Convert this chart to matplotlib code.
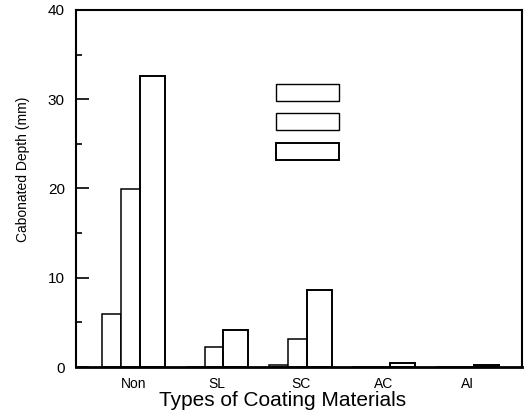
import matplotlib
matplotlib.use('Agg')
import matplotlib.pyplot as plt
from matplotlib.patches import Patch
from matplotlib.ticker import MultipleLocator
import numpy as np

plt.rcParams['font.family'] = ['Liberation Sans', 'DejaVu Sans']

# data
categories = ['Non', 'SL', 'SC', 'AC', 'AI']
series_1 = [5.9, 0.0, 0.25, 0.0, 0.0]
series_2 = [19.9, 2.2, 3.1, 0.05, 0.05]
series_3 = [32.6, 4.1, 8.6, 0.4, 0.2]
y_ticks = [0, 10, 20, 30, 40]

fig = plt.figure(figsize=(5.26, 4.15), dpi=100)
ax = fig.add_axes([76 / 526, 1 - 367 / 415, 446 / 526, 357 / 415])

x = np.arange(len(categories))
# bars are not the same width in the original: the third is wider
w12, w3 = 0.226, 0.30
ax.bar(x - 0.378, series_1, width=w12, align='edge', facecolor='white', edgecolor='black', linewidth=1.1)
ax.bar(x - 0.152, series_2, width=w12, align='edge', facecolor='white', edgecolor='black', linewidth=1.1)
ax.bar(x + 0.074, series_3, width=w3, align='edge', facecolor='white', edgecolor='black', linewidth=1.4)

ax.set_xlim(-0.693, 4.655)
ax.set_ylim(0, 40)
ax.set_xticks(x)
ax.set_xticklabels(categories, fontsize=10)
ax.set_yticks(y_ticks)
ax.yaxis.set_minor_locator(MultipleLocator(5))
ax.tick_params(axis='x', length=0, pad=7)
ax.tick_params(axis='y', which='major', direction='in', length=9.5, width=1.2, labelsize=11, pad=8)
ax.tick_params(axis='y', which='minor', direction='in', length=4.5, width=1.2)

for side in ['left', 'top', 'right']:
    ax.spines[side].set_linewidth(1.5)
ax.spines['bottom'].set_linewidth(2)

ax.set_ylabel('Cabonated Depth (mm)', fontsize=10)
ax.yaxis.set_label_coords(-0.103, 0.555)
ax.set_xlabel('Types of Coating Materials', fontsize=15)
ax.xaxis.set_label_coords(0.464, -0.068)

handles = [Patch(facecolor='white', edgecolor='black', linewidth=1.0),
           Patch(facecolor='white', edgecolor='black', linewidth=1.0),
           Patch(facecolor='white', edgecolor='black', linewidth=1.4)]
fig.legend(handles, ['', '', ''], loc='upper left', bbox_to_anchor=(276 / 526, 1 - 84 / 415),
           frameon=False, borderpad=0, borderaxespad=0, fontsize=10,
           handlelength=4.5, handleheight=1.5, labelspacing=0.9, handletextpad=0.5)

fig.savefig('out.png', dpi=100)
